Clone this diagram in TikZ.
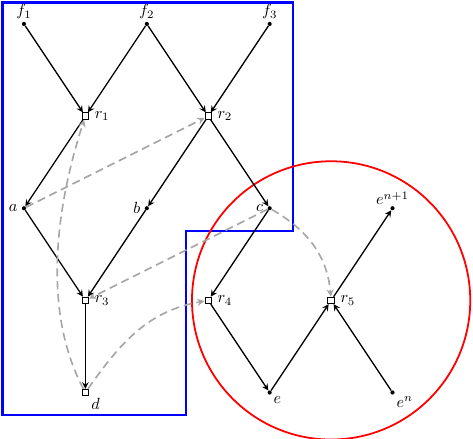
\documentclass[tikz,border=0pt]{standalone}
\usepackage{amsmath}
\usepackage{tikz}

\begin{document}
\begin{tikzpicture}
          [scale=0.6667,
          dot/.style={shape=circle,fill=black,inner sep=0pt,minimum size=0.9mm},
          rule/.style={shape=rectangle,draw=black,fill=white,inner sep=0pt,minimum size=1.4mm,semithick},
          arc/.style={->,>=stealth,thick},
          dep/.style={->,>=stealth,line width=1pt,black!35,dash pattern=on 5pt off 3pt},
          edge/.style={thick}]

            \useasboundingbox (-0.78,0.78) rectangle (14.62,-13.49);

            \node (f1) [dot,label={[label distance=-2pt]above:$f_1$}] at (0,0) {};
            \node (f2) [dot,label={[label distance=-2pt]above:$f_2$}] at (4,0) {};
            \node (f3) [dot,label={[label distance=-2pt]above:$f_3$}] at (8,0) {};
            \node (r1) [rule,label=right:$r_1$] at (2,-3) {};
            \node (r2) [rule,label=right:$r_2$] at (6,-3) {};
            \node (a) [dot,label={[label distance=-1pt]left:$a$}] at (0,-6) {};
            \node (b) [dot,label={[label distance=-1pt]left:$b$}] at (4,-6) {};
            \node (c) [dot,label={[label distance=-1pt]left:$c$}] at (8,-6) {};
            \node (enp) [dot,label={[label distance=-3pt]above:$e^{n+1}$}] at (12,-6) {};
            \node (r3) [rule,label=right:$r_3$] at (2,-9) {};
            \node (r4) [rule,label=right:$r_4$] at (6,-9) {};
            \node (r5) [rule,label=right:$r_5$] at (10,-9) {};
            \node (d) [rule,label={[label distance=-3pt]below right:$d$}] at (2,-12) {};
            \node (e) [dot,label={[label distance=-3pt]below right:$e$}] at (8,-12) {};
            \node (en) [dot,label={[label distance=-3pt]below right:$e^n$}] at (12,-12) {};

          % the two regions
          \draw[blue,line width=1.4pt] (-0.7,0.7) -- (8.76,0.7) -- (8.76,-6.74) -- (5.28,-6.74)
                -- (5.28,-12.74) -- (-0.7,-12.74) -- cycle;
          \draw[red,line width=1.1pt] (r5) circle (4.53);

          \draw [arc] (f1) to (r1);
          \draw [arc] (f2) to (r1);
          \draw [arc] (f2) to (r2);
          \draw [arc] (f3) to (r2);
          \draw [arc] (r1) to (a);
          \draw [arc] (r2) to (b);
          \draw [arc] (r2) to (c);
          \draw [arc] (a) to (r3);
          \draw [arc] (b) to (r3);
          \draw [arc] (r3) to (d);
          \draw [arc] (c) to (r4);
          \draw [arc] (r4) to (e);
          \draw [arc] (e) to (r5);
          \draw [arc] (en) to (r5);
          \draw [arc] (r5) to (enp);

          \draw [dep] (a) to (r2);
          \draw [dep] (c) to (r3);
          \draw [dep] (d) to [out=118,in=-108,looseness=0.85] (r1);
          \draw [dep] (d) to [out=55,in=190] (r4);
          \draw [dep] (c) to [out=-30,in=95] (r5);

        \end{tikzpicture}
\end{document}
